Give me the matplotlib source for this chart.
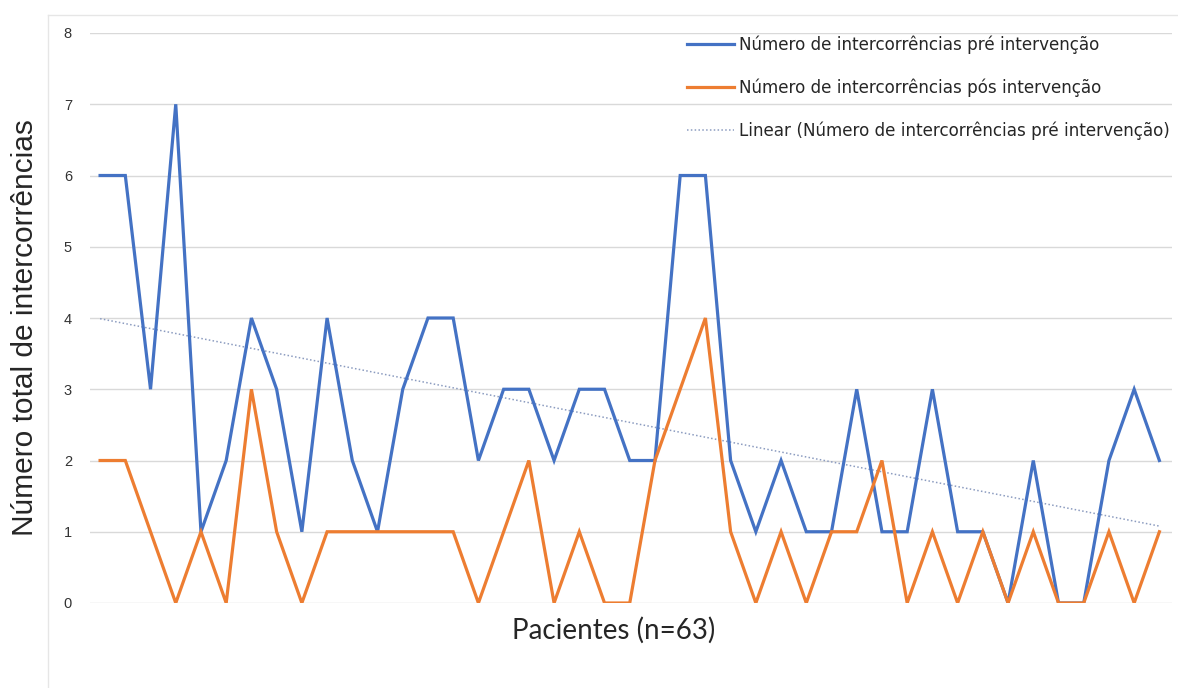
import numpy as np
import matplotlib.pyplot as plt
from matplotlib.lines import Line2D

# values, one per patient shown on the chart
pre = [6, 6, 3, 7, 1, 2, 4, 3, 1, 4, 2, 1, 3, 4, 4, 2, 3, 3, 2, 3, 3, 2,
       2, 6, 6, 2, 1, 2, 1, 1, 3, 1, 1, 3, 1, 1, 0, 2, 0, 0, 2, 3, 2]
post = [2, 2, 1, 0, 1, 0, 3, 1, 0, 1, 1, 1, 1, 1, 1, 0, 1, 2, 0, 1, 0, 0,
        2, 3, 4, 1, 0, 1, 0, 1, 1, 2, 0, 1, 0, 1, 0, 1, 0, 0, 1, 0, 1]
y_ticks = [0, 1, 2, 3, 4, 5, 6, 7, 8]

label_pre = "Número de intercorrências pré intervenção"
label_post = "Número de intercorrências pós intervenção"
label_trend = "Linear (Número de intercorrências pré intervenção)"

x = np.arange(len(pre))
# linear trendline of the pre series (like Excel's "Linear" trendline)
slope, intercept = np.polyfit(x, pre, 1)
trend = slope * x + intercept

fig = plt.figure(figsize=(11.78, 6.88), dpi=100)
ax = fig.add_axes([90 / 1178, 1 - 603 / 688, 1082 / 1178, 570 / 688])

blue = "#4472C4"
orange = "#ED7D31"
trend_col = "#8c9cc0"
dots = (0, (1, 1.5))

ax.plot(x, pre, color=blue, linewidth=2.3, solid_joinstyle="miter", zorder=3)
ax.plot(x, post, color=orange, linewidth=2.3, solid_joinstyle="miter", zorder=3)
ax.plot(x, trend, color=trend_col, linewidth=1.1, linestyle=dots, zorder=2)

ax.set_xlim(-0.4, 42.5)
ax.set_ylim(0, 8)
ax.set_yticks(y_ticks)
ax.set_xticks([])
ax.yaxis.grid(True, color="#d9d9d9", linewidth=1)
ax.set_axisbelow(True)
for s in ax.spines.values():
    s.set_visible(False)
ax.tick_params(axis="y", length=0, pad=13, labelsize=10.5, labelcolor="#333333")
for t in ax.get_yticklabels():
    t.set_fontfamily("Liberation Sans")

ax.set_ylabel("Número total de intercorrências", fontsize=21.5, family="Liberation Sans",
              color="#262626")
ax.yaxis.set_label_coords(-0.047, 0.484)
ax.set_xlabel("Pacientes (n=63)", fontsize=20, family="Lato", color="#262626")
ax.xaxis.set_label_coords((614 - 90) / 1082, -0.024)

handles = [
    Line2D([], [], color=blue, linewidth=2.3),
    Line2D([], [], color=orange, linewidth=2.3),
    Line2D([], [], color=trend_col, linewidth=1.1, linestyle=dots),
]
leg = ax.legend(handles, [label_pre, label_post, label_trend], loc="upper right",
                bbox_to_anchor=(0.998, 0.995), frameon=False, borderpad=0,
                borderaxespad=0, handlelength=2.8, handletextpad=0.3,
                labelspacing=1.45, prop={"family": "DejaVu Sans", "size": 12.1})
for t in leg.get_texts():
    t.set_color("#262626")

# faint outer chart border
fig.add_artist(Line2D([48 / 1178, 48 / 1178], [0, 1 - 15 / 688], color="#e6e6e6", linewidth=1))
fig.add_artist(Line2D([48 / 1178, 1], [1 - 15 / 688, 1 - 15 / 688], color="#e6e6e6", linewidth=1))

fig.savefig("out.png", dpi=100)
